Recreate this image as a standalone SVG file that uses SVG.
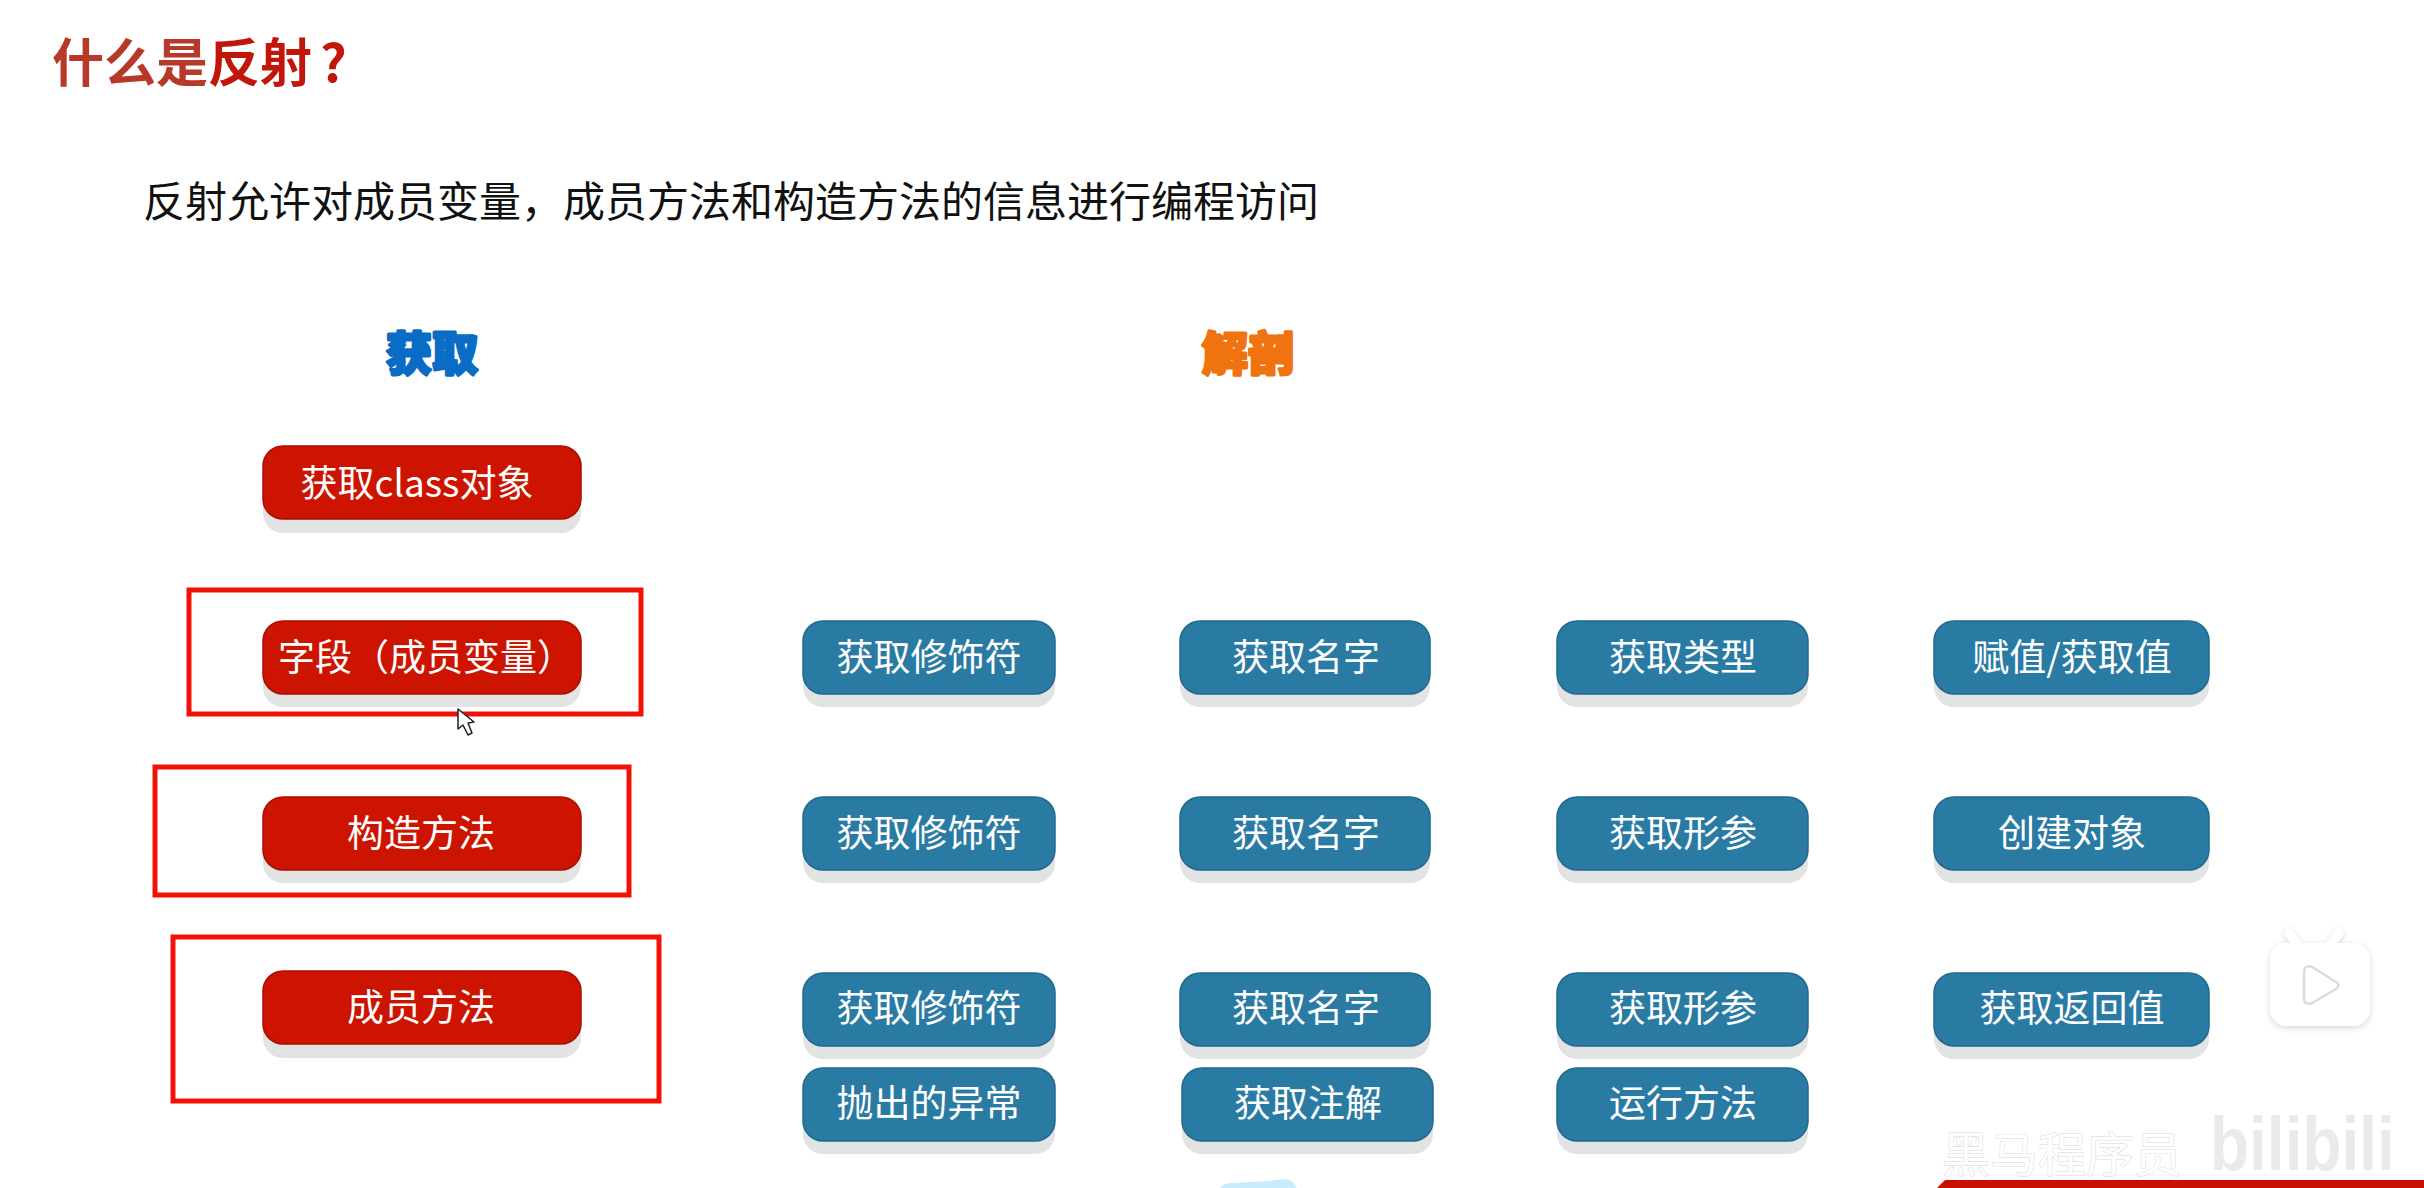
<svg xmlns="http://www.w3.org/2000/svg" width="2424" height="1188" viewBox="0 0 2424 1188">
<defs>
<style>
text{font-family:"Noto Sans CJK SC","Noto Sans",sans-serif}
.sh{fill:#e2e3e3}
.red{fill:#cd1400;stroke:#a80f00;stroke-width:1.5}
.blue{fill:#2a7ba3;stroke:#21698d;stroke-width:1.5}
.t{fill:#fff;font-size:37px;text-anchor:middle}
.frame{fill:none;stroke:#f01208;stroke-width:5}
.head{font-size:46px;font-weight:900;stroke-width:3;stroke-linejoin:round;text-anchor:middle}
</style>
<filter id="soft" x="-20%" y="-20%" width="140%" height="140%"><feDropShadow dx="0" dy="2" stdDeviation="3" flood-color="#000" flood-opacity="0.16"/></filter>
</defs>
<rect width="2424" height="1188" fill="#fff"/>
<text id="title" x="52" y="82" font-size="52" font-weight="700"><tspan fill="#b8382a">什么是</tspan><tspan fill="#c2160a">反射</tspan><tspan fill="#c2160a" dx="8">?</tspan></text>
<text id="subtitle" x="143" y="217" font-size="42" fill="#111">反射允许对成员变量，成员方法和构造方法的信息进行编程访问</text>
<text id="head1" class="head" x="432" y="370" fill="#0a6cc4" stroke="#0a6cc4">获取</text>
<text id="head2" class="head" x="1248" y="370" fill="#ef7410" stroke="#ef7410">解剖</text>

<g id="frames">
<rect class="frame" x="189" y="590" width="452" height="124"/>
<rect class="frame" x="155" y="767" width="474" height="128"/>
<rect class="frame" x="173" y="937" width="486" height="164"/>
</g>

<g id="n-class"><rect class="sh" x="263" y="460" width="318" height="73" rx="20"/><rect class="red" x="263" y="446" width="318" height="73" rx="20"/><text class="t" x="417" y="497">获取class对象</text></g>
<g id="n-field"><rect class="sh" x="263" y="634" width="318" height="73" rx="20"/><rect class="red" x="263" y="621" width="318" height="73" rx="20"/><text class="t" x="426" y="671">字段（成员变量）</text></g>
<g id="n-ctor"><rect class="sh" x="263" y="810" width="318" height="73" rx="20"/><rect class="red" x="263" y="797" width="318" height="73" rx="20"/><text class="t" x="421" y="847">构造方法</text></g>
<g id="n-method"><rect class="sh" x="263" y="985" width="318" height="73" rx="20"/><rect class="red" x="263" y="971" width="318" height="73" rx="20"/><text class="t" x="421" y="1021">成员方法</text></g>

<g id="n-r1c1"><rect class="sh" x="803" y="634" width="252" height="73" rx="20"/><rect class="blue" x="803" y="621" width="252" height="73" rx="20"/><text class="t" x="929" y="671">获取修饰符</text></g>
<g id="n-r1c2"><rect class="sh" x="1180" y="634" width="250" height="73" rx="20"/><rect class="blue" x="1180" y="621" width="250" height="73" rx="20"/><text class="t" x="1306" y="671">获取名字</text></g>
<g id="n-r1c3"><rect class="sh" x="1557" y="634" width="251" height="73" rx="20"/><rect class="blue" x="1557" y="621" width="251" height="73" rx="20"/><text class="t" x="1683" y="671">获取类型</text></g>
<g id="n-r1c4"><rect class="sh" x="1934" y="634" width="275" height="73" rx="20"/><rect class="blue" x="1934" y="621" width="275" height="73" rx="20"/><text class="t" x="2072" y="671">赋值/获取值</text></g>

<g id="n-r2c1"><rect class="sh" x="803" y="810" width="252" height="73" rx="20"/><rect class="blue" x="803" y="797" width="252" height="73" rx="20"/><text class="t" x="929" y="847">获取修饰符</text></g>
<g id="n-r2c2"><rect class="sh" x="1180" y="810" width="250" height="73" rx="20"/><rect class="blue" x="1180" y="797" width="250" height="73" rx="20"/><text class="t" x="1306" y="847">获取名字</text></g>
<g id="n-r2c3"><rect class="sh" x="1557" y="810" width="251" height="73" rx="20"/><rect class="blue" x="1557" y="797" width="251" height="73" rx="20"/><text class="t" x="1683" y="847">获取形参</text></g>
<g id="n-r2c4"><rect class="sh" x="1934" y="810" width="275" height="73" rx="20"/><rect class="blue" x="1934" y="797" width="275" height="73" rx="20"/><text class="t" x="2072" y="847">创建对象</text></g>

<g id="n-r3c1"><rect class="sh" x="803" y="986" width="252" height="73" rx="20"/><rect class="blue" x="803" y="973" width="252" height="73" rx="20"/><text class="t" x="929" y="1022">获取修饰符</text></g>
<g id="n-r3c2"><rect class="sh" x="1180" y="986" width="250" height="73" rx="20"/><rect class="blue" x="1180" y="973" width="250" height="73" rx="20"/><text class="t" x="1306" y="1022">获取名字</text></g>
<g id="n-r3c3"><rect class="sh" x="1557" y="986" width="251" height="73" rx="20"/><rect class="blue" x="1557" y="973" width="251" height="73" rx="20"/><text class="t" x="1683" y="1022">获取形参</text></g>
<g id="n-r3c4"><rect class="sh" x="1934" y="986" width="275" height="73" rx="20"/><rect class="blue" x="1934" y="973" width="275" height="73" rx="20"/><text class="t" x="2072" y="1022">获取返回值</text></g>

<g id="n-r4c1"><rect class="sh" x="803" y="1081" width="252" height="73" rx="20"/><rect class="blue" x="803" y="1068" width="252" height="73" rx="20"/><text class="t" x="929" y="1117">抛出的异常</text></g>
<g id="n-r4c2"><rect class="sh" x="1182" y="1081" width="251" height="73" rx="20"/><rect class="blue" x="1182" y="1068" width="251" height="73" rx="20"/><text class="t" x="1308" y="1117">获取注解</text></g>
<g id="n-r4c3"><rect class="sh" x="1557" y="1081" width="251" height="73" rx="20"/><rect class="blue" x="1557" y="1068" width="251" height="73" rx="20"/><text class="t" x="1683" y="1117">运行方法</text></g>

<g id="connectors"></g>

<path id="cursor" d="M458 709V729L463 725L468 735L472 733L468 723L474 722Z" fill="#fff" stroke="#222" stroke-width="1.5" stroke-linejoin="round"/>

<path id="blue-scrap" d="M1220 1188Q1224 1183 1232 1183L1270 1181Q1284 1178 1290 1180Q1294 1183 1297 1188Z" fill="#c8ecfb"/>
<path id="strip" d="M1937 1188L1945 1180H2424V1188Z" fill="#c81000"/>
<text id="wm-text" x="1942" y="1172" font-size="48" fill="#fff" stroke="#d8d8d8" stroke-width="1" paint-order="stroke">黑马程序员</text>
<text id="wm-logo" transform="translate(2210 1170) scale(1 1.2)" font-size="64" font-weight="700" fill="#e6e6e6" fill-opacity="0.85" style="font-family:'Liberation Sans',sans-serif">bilibili</text>

<g id="tv" filter="url(#soft)">
<path d="M2297 945L2289 933" stroke="#fff" stroke-width="9" stroke-linecap="round"/>
<path d="M2330 945L2339 933" stroke="#fff" stroke-width="9" stroke-linecap="round"/>
<rect x="2270" y="943" width="100" height="83" rx="17" fill="#fff"/>
</g>
<path d="M2304 973Q2304 964 2312 967L2336 982Q2341 985 2336 989L2312 1003Q2304 1006 2304 998Z" fill="#fff" stroke="#dcdcdc" stroke-width="2.5"/>
</svg>
